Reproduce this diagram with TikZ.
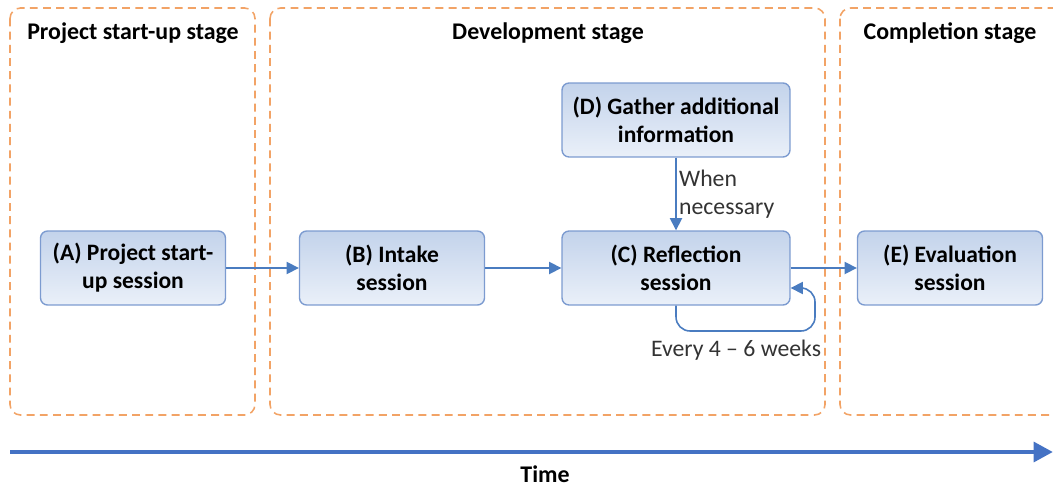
\documentclass[tikz,border=0pt]{standalone}
\usepackage{fontspec}
\setmainfont{Carlito}
\usepackage{xcolor}
\usetikzlibrary{arrows.meta}

\definecolor{stageorange}{HTML}{F2A366}
\definecolor{boxline}{HTML}{7C9BD0}
\definecolor{boxtop}{HTML}{C3D3EB}
\definecolor{boxbot}{HTML}{EAF0F9}
\definecolor{arrowblue}{HTML}{4A7CC0}
\definecolor{timeblue}{HTML}{4472C4}

\begin{document}
\begin{tikzpicture}[x=0.02cm,y=-0.02cm,
    stage/.style={draw=stageorange,line width=0.9pt,dash pattern=on 4.5pt off 3pt,rounded corners=6pt},
    stagetitle/.style={font=\fontsize{13.6}{16}\selectfont\bfseries},
    session/.style={draw=boxline,line width=0.8pt,rounded corners=4pt,top color=boxtop,bottom color=boxbot,
        minimum width=3.7cm,minimum height=1.48cm,align=center,font=\fontsize{13.4}{16}\selectfont\bfseries},
    wide/.style={minimum width=4.56cm},
    flow/.style={draw=arrowblue,line width=0.9pt,-{Triangle[length=7pt,width=7pt]}},
    note/.style={font=\fontsize{13.5}{16}\selectfont,text=black!80}
]
\useasboundingbox (0,0) rectangle (1053,486);

\draw[stage] (10,8) rectangle (255,415);
\draw[stage] (270,8) rectangle (825,415);
\draw[stage] (840,8) rectangle (1080,415);

\node[stagetitle] (startup) at (133,33) {Project start-up stage};
\node[stagetitle] (develop) at (548,33) {Development stage};
\node[stagetitle] (complete) at (950,33) {Completion stage};

\node[session] (A) at (133,268) {(A) Project start-\\up session};
\node[session] (B) at (392,268) {(B) Intake\\session};
\node[session,wide] (C) at (676,268) {(C) Reflection\\session};
\node[session,wide] (D) at (676,120) {(D) Gather additional\\information};
\node[session] (E) at (950,268) {(E) Evaluation\\session};

\draw[flow] (A) -- (B);
\draw[flow] (B) -- (C);
\draw[flow] (C) -- (E);
\draw[flow] (D) -- (C) node[note,pos=0.5,anchor=west,align=left,xshift=-2pt] (when) {When\\necessary};

\coordinate (loop) at (815,331);
\draw[flow,rounded corners=8pt] (C.south) |- (loop) |- ([yshift=-0.4cm]C.east);
\node[note] (every) at (736,350) {Every 4 -- 6 weeks};

\coordinate (tstart) at (10,452);
\coordinate (tend) at (1053,452);
\draw[timeblue,line width=2.8pt,-{Triangle[length=11pt,width=11pt]}] (tstart) -- (tend);
\node[stagetitle] (time) at (545,474) {Time};
\end{tikzpicture}
\end{document}
